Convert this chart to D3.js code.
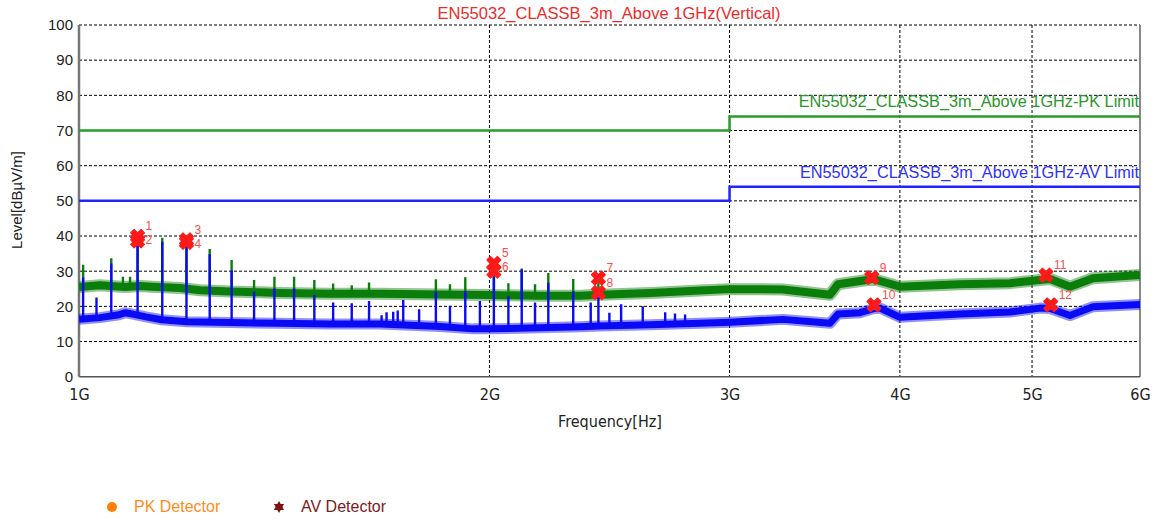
<!DOCTYPE html>
<html><head><meta charset="utf-8">
<script src="https://cdn.jsdelivr.net/npm/d3@7"></script>
<style>
html,body{margin:0;padding:0;background:#fff;}
svg{display:block;font-family:"Liberation Sans",Arial,sans-serif;}
</style></head>
<body><svg id="c" width="1159" height="520"></svg>
<script>
// ---------- data (frequency in MHz, level in dBuV/m) ----------
const titleText = "EN55032_CLASSB_3m_Above 1GHz(Vertical)";
const xTickValues = [1000, 2000, 3000, 4000, 5000, 6000];
const xTickLabels = ["1G", "2G", "3G", "4G", "5G", "6G"];
const yTickValues = [0, 10, 20, 30, 40, 50, 60, 70, 80, 90, 100];

const pkLimitFreq = [1000, 3000, 3000, 6000];
const pkLimitLevel = [70, 70, 74, 74];
const avLimitFreq = [1000, 3000, 3000, 6000];
const avLimitLevel = [50, 50, 54, 54];
const pkLimitName = "EN55032_CLASSB_3m_Above 1GHz-PK Limit";
const avLimitName = "EN55032_CLASSB_3m_Above 1GHz-AV Limit";

// PK (green) trace floor
const pkFreq = [1000,1036,1081,1109,1131,1186,1227,1290,1357,1404,1528,1662,1840,2002,2178,2330,2411,2624,2854,3002,3283,3554,3603,3784,3823,3868,4000,4427,4817,5067,5154,5331,5542,6000];
const pkLevel = [25.5,26.0,25.5,25.8,25.6,25.2,24.6,24.2,24.0,23.8,23.6,23.6,23.4,23.2,23.0,23.0,23.3,23.8,24.5,24.9,24.8,23.3,26.3,27.5,27.8,27.2,25.6,26.3,26.6,27.5,27.8,25.6,28.0,28.9];
// PK spikes
const pkSpikeFreq = [1007,1056,1077,1090,1104,1151,1199,1247,1294,1344,1391,1438,1488,1536,1585,1632,1827,1871,1920,2015,2065,2112,2160,2209,2304,2404];
const pkSpikeLevel = [31.8,33.7,28.4,28.4,40.0,39.5,38.8,36.3,33.2,27.5,28.4,28.4,27.5,26.5,26.0,26.8,27.7,26.3,28.3,31.5,26.6,30.8,26.3,29.5,27.8,28.0];

// AV (blue) trace floor
const avFreq = [1000,1036,1070,1081,1095,1120,1150,1200,1290,1400,1528,1662,1840,1945,2002,2178,2330,2411,2624,2854,3002,3283,3554,3603,3739,3823,3868,4000,4427,4817,5067,5154,5331,5542,6000];
const avLevel = [16.3,16.8,17.6,18.2,17.8,17.0,16.2,15.6,15.4,15.2,15.0,15.0,14.3,13.6,13.6,13.9,14.2,14.4,14.8,15.2,15.5,16.3,15.2,17.8,18.2,19.3,19.5,16.9,17.8,18.4,19.5,19.4,17.4,19.9,20.5];
// AV spikes
const avSpikeFreq = [1007,1030,1056,1077,1090,1104,1151,1199,1247,1294,1344,1391,1438,1488,1536,1585,1632,1667,1681,1700,1713,1729,1776,1827,1871,1920,1968,2015,2065,2112,2160,2209,2304,2373,2404,2449,2498,2591,2691,2736,2783];
const avSpikeLevel = [28.2,22.5,32.2,19.0,19.0,37.5,38.4,37.0,34.8,30.3,24.2,25.1,25.1,23.2,21.1,20.9,21.5,17.5,18.3,18.5,18.8,21.8,19.2,24.2,20.2,24.4,21.5,28.4,22.9,30.5,21.1,26.7,24.4,21.1,22.7,18.2,20.6,20.0,18.3,18.0,17.7];

// final markers
const markerNo = [1,2,3,4,5,6,7,8,9,10,11,12];
const markerFreq = [1104,1104,1199,1199,2015,2015,2404,2404,3814,3829,5119,5160];
const markerLevel = [39.9,38.6,38.9,38.2,32.2,30.0,28.0,23.9,28.2,20.4,28.9,20.4];

const legendNames = ["PK Detector", "AV Detector"];

// ---------- drawing ----------
const svg = d3.select("#c");
const L = 79, R = 1140, T = 25, B = 376.7;
const x = d3.scaleLog().domain([1000, 6000]).range([L, R]);
const y = d3.scaleLinear().domain([0, 100]).range([B, T]);

// title
svg.append("text").attr("x", 609).attr("y", 19).attr("text-anchor", "middle")
  .attr("font-size", 16.5).attr("fill", "#ee2a2a").text(titleText);

// grid
const g = svg.append("g");
g.selectAll(".hg").data(yTickValues.filter(v => v > 0)).join("line")
  .attr("x1", L).attr("x2", R).attr("y1", d => y(d)).attr("y2", d => y(d))
  .attr("stroke", "#000").attr("stroke-width", 1).attr("stroke-dasharray", "3,2");
g.selectAll(".vg").data(xTickValues.slice(1, -1)).join("line")
  .attr("x1", d => x(d)).attr("x2", d => x(d)).attr("y1", T).attr("y2", B)
  .attr("stroke", "#000").attr("stroke-width", 1).attr("stroke-dasharray", "3,2");

// frame
svg.append("line").attr("x1", R).attr("x2", R).attr("y1", T).attr("y2", B).attr("stroke", "#888").attr("stroke-width", 2);
svg.append("line").attr("x1", L).attr("x2", R).attr("y1", B).attr("y2", B).attr("stroke", "#555").attr("stroke-width", 1.5);
svg.append("line").attr("x1", L).attr("x2", L).attr("y1", T).attr("y2", B).attr("stroke", "#777").attr("stroke-width", 2.5);

// axes labels
const yAxis = d3.axisLeft(y).tickValues(yTickValues).tickSize(0).tickPadding(6);
const ya = svg.append("g").attr("transform", `translate(${L},0)`).call(yAxis);
ya.select(".domain").remove();
ya.selectAll("text").attr("font-size", 15).attr("fill", "#222").attr("font-family", "Liberation Sans, Arial, sans-serif");

const xAxis = d3.axisBottom(x).tickValues(xTickValues).tickSize(0).tickPadding(12)
  .tickFormat((d, i) => xTickLabels[i]);
const xa = svg.append("g").attr("transform", `translate(0,${B})`).call(xAxis);
xa.select(".domain").remove();
xa.selectAll("text").attr("font-size", 16).attr("fill", "#222")
  .attr("font-family", "Liberation Sans Narrow, DejaVu Sans Condensed, sans-serif");

svg.append("text").attr("x", 610).attr("y", 427).attr("text-anchor", "middle")
  .attr("font-size", 16).attr("fill", "#222")
  .attr("font-family", "Liberation Sans Narrow, DejaVu Sans Condensed, sans-serif")
  .text("Frequency[Hz]");
svg.append("text").attr("transform", "translate(22,200) rotate(-90)").attr("text-anchor", "middle")
  .attr("font-size", 15).attr("fill", "#222").text("Level[dBµV/m]");

// limit lines
const lineGen = d3.line().x(d => x(d[0])).y(d => y(d[1]));
svg.append("path").datum(pkLimitFreq.map((f, i) => [f, pkLimitLevel[i]])).attr("d", lineGen)
  .attr("fill", "none").attr("stroke", "#2a9a2a").attr("stroke-width", 2.5);
svg.append("path").datum(avLimitFreq.map((f, i) => [f, avLimitLevel[i]])).attr("d", lineGen)
  .attr("fill", "none").attr("stroke", "#2222ff").attr("stroke-width", 2.5);
svg.append("text").attr("x", R - 1).attr("y", y(pkLimitLevel[3]) - 9).attr("text-anchor", "end")
  .attr("font-size", 16.3).attr("fill", "#2b962b").text(pkLimitName);
svg.append("text").attr("x", R - 1).attr("y", y(avLimitLevel[3]) - 9).attr("text-anchor", "end")
  .attr("font-size", 16.3).attr("fill", "#3030ff").text(avLimitName);

// traces
svg.append("clipPath").attr("id", "pc").append("rect")
  .attr("x", L).attr("y", T).attr("width", R - L).attr("height", B - T);
function floorAt(fs, ls, f) {
  const i = Math.max(1, Math.min(fs.length - 1, d3.bisectLeft(fs, f)));
  const t = (Math.log(f) - Math.log(fs[i - 1])) / (Math.log(fs[i]) - Math.log(fs[i - 1]));
  return ls[i - 1] + (ls[i] - ls[i - 1]) * t;
}
function drawTrace(fs, ls, sf, sl, color, bandW) {
  const tg = svg.append("g").attr("clip-path", "url(#pc)");
  const pts = fs.map((f, i) => [f, ls[i]]);
  tg.append("path").datum(pts).attr("d", lineGen)
    .attr("fill", "none").attr("stroke", color).attr("stroke-opacity", 0.45)
    .attr("stroke-width", bandW + 4).attr("stroke-linejoin", "round");
  tg.append("path").datum(pts).attr("d", lineGen)
    .attr("fill", "none").attr("stroke", color).attr("stroke-width", bandW)
    .attr("stroke-linejoin", "round");
  tg.selectAll(".sp").data(sf.map((f, i) => [f, sl[i]])).join("line")
    .attr("x1", d => x(d[0])).attr("x2", d => x(d[0]))
    .attr("y1", d => y(d[1])).attr("y2", d => y(floorAt(fs, ls, d[0])))
    .attr("stroke", color).attr("stroke-width", 2.4);
}
drawTrace(pkFreq, pkLevel, pkSpikeFreq, pkSpikeLevel, "#0a7d0a", 8);
drawTrace(avFreq, avLevel, avSpikeFreq, avSpikeLevel, "#0a0af5", 7);

// markers
const crossPath = d3.symbol().type(d3.symbolCross).size(120)();
const mg = svg.append("g");
markerNo.forEach((n, i) => {
  const mx = x(markerFreq[i]), my = y(markerLevel[i]);
  mg.append("path").attr("d", crossPath)
    .attr("transform", `translate(${mx},${my}) rotate(45)`)
    .attr("fill", "#ff1a1a").attr("stroke", "#ff1a1a").attr("stroke-width", 1.2).attr("stroke-linejoin", "round");
});
// marker labels, nudged apart when two share one frequency
const labelFont = 12, labelGap = 14;
let prev = null;
markerNo.forEach((n, i) => {
  const mx = x(markerFreq[i]), my = y(markerLevel[i]);
  let by = my - 6;
  if (prev && Math.abs(prev.x - mx) < 12 && by < prev.y + labelGap) by = prev.y + labelGap;
  mg.append("text").attr("x", mx + 8).attr("y", by).attr("font-size", labelFont)
    .attr("fill", "#ff4d4d").text(n);
  prev = {x: mx, y: by};
});

// legend
svg.append("circle").attr("cx", 112).attr("cy", 507).attr("r", 5).attr("fill", "#ff8000");
svg.append("text").attr("x", 134).attr("y", 512).attr("font-size", 16).attr("fill", "#ff8c1a").text(legendNames[0]);
const tri = d3.symbol().type(d3.symbolTriangle).size(45)();
svg.append("path").attr("d", tri).attr("transform", "translate(279,507)").attr("fill", "#7a1212");
svg.append("path").attr("d", tri).attr("transform", "translate(279,507) rotate(180)").attr("fill", "#7a1212");
svg.append("text").attr("x", 301).attr("y", 512).attr("font-size", 16).attr("fill", "#7a1a1a").text(legendNames[1]);
</script></body></html>
